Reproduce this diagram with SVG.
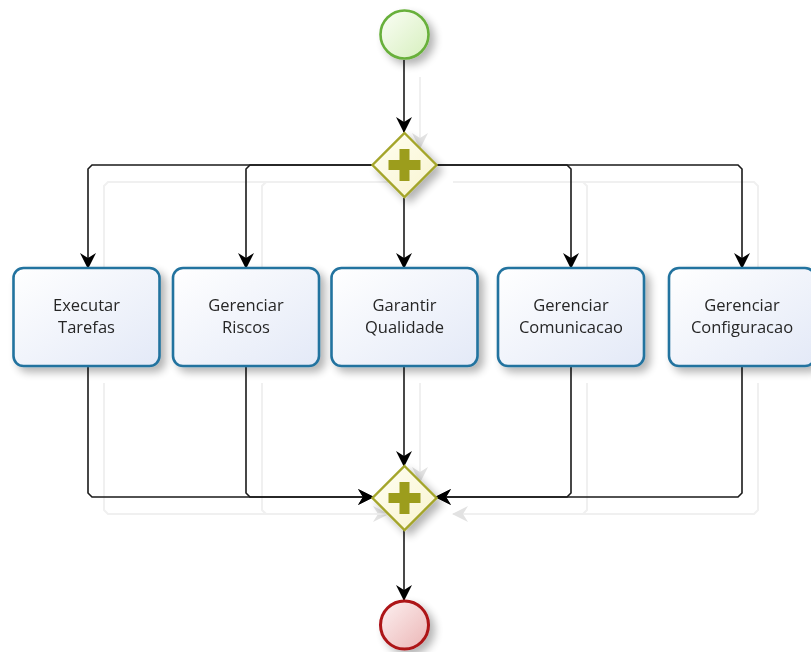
<svg xmlns="http://www.w3.org/2000/svg" width="811" height="652" viewBox="0 0 811 652">
<defs>
  <linearGradient id="gTask" x1="0" y1="0" x2="1" y2="1">
    <stop offset="0" stop-color="#ffffff"/>
    <stop offset="1" stop-color="#e3e9f7"/>
  </linearGradient>
  <linearGradient id="gStart" x1="0" y1="0" x2="1" y2="1">
    <stop offset="0" stop-color="#fbfef6"/>
    <stop offset="1" stop-color="#d6efbd"/>
  </linearGradient>
  <linearGradient id="gEnd" x1="0" y1="0" x2="1" y2="1">
    <stop offset="0" stop-color="#fdf1f1"/>
    <stop offset="1" stop-color="#ebb5b5"/>
  </linearGradient>
  <linearGradient id="gGate" x1="0" y1="0" x2="1" y2="1">
    <stop offset="0" stop-color="#fffff2"/>
    <stop offset="1" stop-color="#f8f3cf"/>
  </linearGradient>
  <filter id="shadow" x="-20%" y="-20%" width="150%" height="150%">
    <feGaussianBlur in="SourceAlpha" stdDeviation="4"/>
    <feOffset dx="5" dy="5" result="b"/>
    <feComponentTransfer><feFuncA type="linear" slope="0.3"/></feComponentTransfer>
    <feMerge><feMergeNode/><feMergeNode in="SourceGraphic"/></feMerge>
  </filter>
  <marker id="arr" viewBox="0 0 16 16" refX="15" refY="8" markerWidth="16" markerHeight="16" markerUnits="userSpaceOnUse" orient="auto">
    <path d="M0,0 L16,8 L0,16 L5,8 Z" fill="#000"/>
  </marker>
  <marker id="arrG" viewBox="0 0 16 16" refX="15" refY="8" markerWidth="16" markerHeight="16" markerUnits="userSpaceOnUse" orient="auto">
    <path d="M0,0 L16,8 L0,16 L5,8 Z" fill="#e2e2e2"/>
  </marker>
  <style>
    .c { fill: none; stroke: #1a1a1a; stroke-width: 1.6; }
    .g { fill: none; stroke: #f0f0f0; stroke-width: 2; }
    .task { fill: url(#gTask); stroke: #24739f; stroke-width: 2.6; }
    .gate { fill: url(#gGate); stroke: #a4a52a; stroke-width: 2.4; }
    .plus { fill: #9c9d1f; }
    .lbl { font-family: "Open Sans", "Noto Sans", "DejaVu Sans", sans-serif; font-size: 16.5px; fill: #262626; text-anchor: middle; }
  </style>
</defs>
<rect width="811" height="652" fill="#ffffff"/>

<!-- faint shadow copies of connectors -->
<g id="connector-shadows" transform="translate(16,17)">
  <path class="g" d="M404,60 L404,131" marker-end="url(#arrG)"/>
  <path class="g" d="M372,165 L92,165 L88,169 L88,250"/>
  <path class="g" d="M372,165 L250,165 L246,169 L246,250"/>
  <path class="g" d="M437,165 L567,165 L571,169 L571,250"/>
  <path class="g" d="M437,165 L738,165 L742,169 L742,250"/>
  <path class="g" d="M88,366 L88,493 L92,497 L372,497" marker-end="url(#arrG)"/>
  <path class="g" d="M246,366 L246,493 L250,497 L372,497"/>
  <path class="g" d="M404,366 L404,465" marker-end="url(#arrG)"/>
  <path class="g" d="M571,366 L571,493 L567,497 L437,497"/>
  <path class="g" d="M742,366 L742,493 L738,497 L437,497" marker-end="url(#arrG)"/>
</g>

<g id="connectors">
  <path class="c" d="M404,60 L404,132" marker-end="url(#arr)"/>
  <path class="c" d="M372,165 L92,165 L88,169 L88,268" marker-end="url(#arr)"/>
  <path class="c" d="M372,165 L250,165 L246,169 L246,268" marker-end="url(#arr)"/>
  <path class="c" d="M404,198 L404,268" marker-end="url(#arr)"/>
  <path class="c" d="M437,165 L567,165 L571,169 L571,268" marker-end="url(#arr)"/>
  <path class="c" d="M437,165 L738,165 L742,169 L742,268" marker-end="url(#arr)"/>
  <path class="c" d="M88,366 L88,493 L92,497 L373,497" marker-end="url(#arr)"/>
  <path class="c" d="M246,366 L246,493 L250,497 L373,497" marker-end="url(#arr)"/>
  <path class="c" d="M404,366 L404,466" marker-end="url(#arr)"/>
  <path class="c" d="M571,366 L571,493 L567,497 L436,497" marker-end="url(#arr)"/>
  <path class="c" d="M742,366 L742,493 L738,497 L436,497" marker-end="url(#arr)"/>
  <path class="c" d="M404,529 L404,600" marker-end="url(#arr)"/>
</g>

<g id="start" filter="url(#shadow)">
  <circle cx="404.5" cy="34.5" r="24" fill="url(#gStart)" stroke="#68b03b" stroke-width="2.6"/>
</g>

<g id="split" filter="url(#shadow)">
  <polygon class="gate" points="404.5,133 436.5,165 404.5,197 372.5,165"/>
  <path class="plus" d="M399.5,149 h10 v11 h11 v10 h-11 v11 h-10 v-11 h-11 v-10 h11 z"/>
</g>

<g id="task-executar" filter="url(#shadow)">
  <rect class="task" x="13.5" y="268" width="146" height="98" rx="10"/>
  <text class="lbl" x="86.5" y="311">Executar</text>
  <text class="lbl" x="86.5" y="333">Tarefas</text>
</g>
<g id="task-riscos" filter="url(#shadow)">
  <rect class="task" x="173" y="268" width="146" height="98" rx="10"/>
  <text class="lbl" x="246" y="311">Gerenciar</text>
  <text class="lbl" x="246" y="333">Riscos</text>
</g>
<g id="task-qualidade" filter="url(#shadow)">
  <rect class="task" x="331.5" y="268" width="146" height="98" rx="10"/>
  <text class="lbl" x="404.5" y="311">Garantir</text>
  <text class="lbl" x="404.5" y="333">Qualidade</text>
</g>
<g id="task-comunicacao" filter="url(#shadow)">
  <rect class="task" x="498" y="268" width="146" height="98" rx="10"/>
  <text class="lbl" x="571" y="311">Gerenciar</text>
  <text class="lbl" x="571" y="333">Comunicacao</text>
</g>
<g id="task-configuracao" filter="url(#shadow)">
  <rect class="task" x="669" y="268" width="146" height="98" rx="10"/>
  <text class="lbl" x="742" y="311">Gerenciar</text>
  <text class="lbl" x="742" y="333">Configuracao</text>
</g>

<g id="join" filter="url(#shadow)">
  <polygon class="gate" points="404.5,466 436.5,498 404.5,530 372.5,498"/>
  <path class="plus" d="M399.5,482 h10 v11 h11 v10 h-11 v11 h-10 v-11 h-11 v-10 h11 z"/>
</g>

<g id="end" filter="url(#shadow)">
  <circle cx="404.5" cy="625" r="24" fill="url(#gEnd)" stroke="#ad1218" stroke-width="3"/>
</g>
</svg>
